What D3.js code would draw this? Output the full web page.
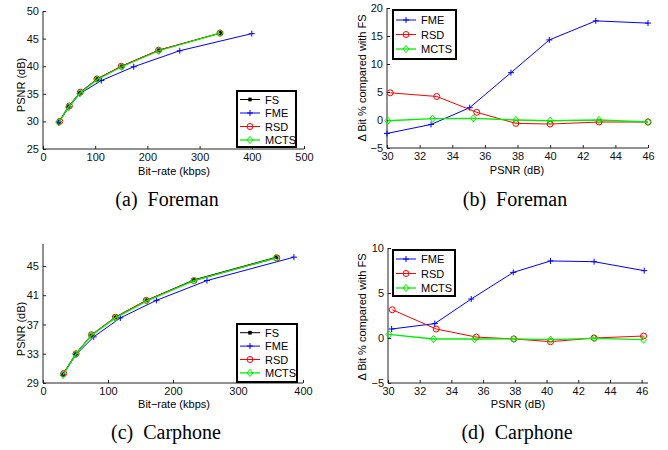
<!DOCTYPE html>
<html lang="en">
<head>
    <meta charset="UTF-8">
    <title>RD curves and bit difference</title>
    <script src="https://d3js.org/d3.v7.min.js"></script>
    <style>
        body { margin: 0; background: #fff; }
        text { font-family: "Liberation Sans", Arial, sans-serif; }
        .caption { font-family: "Liberation Serif", "Times New Roman", serif; font-size: 20px; }
    </style>
</head>
<body>
<svg id="fig" width="668" height="450"></svg>
<script>
    // ---- Foreman : rate vs PSNR ----
    var foreFsRate   = [30.6, 48.5, 70.5, 104, 151, 222, 340];
    var foreFsPsnr   = [29.9, 32.7, 35.2, 37.7, 40.0, 42.9, 46.0];
    var foreFmeRate  = [30.0, 49.8, 70.3, 111.7, 173.8, 262, 400];
    var foreFmePsnr  = [29.9, 32.6, 35.0, 37.4, 39.9, 42.8, 45.9];
    var foreRsdRate  = [32.1, 50.5, 71.5, 103.4, 150, 221.5, 339];
    var foreRsdPsnr  = [30.0, 32.8, 35.3, 37.7, 40.0, 42.9, 46.0];
    var foreMctsRate = [30.5, 48.6, 70.7, 104, 150.8, 222, 339];
    var foreMctsPsnr = [29.8, 32.6, 35.1, 37.6, 39.9, 42.8, 46.0];

    // ---- Foreman : delta bit % ----
    var foreDFmeX  = [30.0, 32.7, 35.07, 37.6, 39.95, 42.8, 46.0];
    var foreDFmeY  = [-2.4, -0.8, 2.2, 8.45, 14.3, 17.7, 17.3];
    var foreDRsdX  = [30.2, 33.05, 35.5, 37.9, 40.0, 43.0, 46.0];
    var foreDRsdY  = [4.85, 4.2, 1.37, -0.6, -0.72, -0.36, -0.36];
    var foreDMctsX = [30.05, 32.8, 35.3, 37.9, 40.0, 43.0, 46.0];
    var foreDMctsY = [-0.13, 0.24, 0.3, 0.0, -0.13, 0.0, -0.36];

    // ---- Carphone : rate vs PSNR ----
    var carFsRate   = [30.8, 50.3, 74.4, 111.4, 159.5, 232.3, 359];
    var carFsPsnr   = [30.2, 33.0, 35.5, 38.0, 40.3, 43.1, 46.2];
    var carFmeRate  = [31.1, 51, 78, 119, 174.5, 252.3, 386];
    var carFmePsnr  = [30.2, 32.9, 35.3, 37.9, 40.3, 43.0, 46.2];
    var carRsdRate  = [31.8, 50.8, 74.5, 111.3, 158.8, 232.3, 359.8];
    var carRsdPsnr  = [30.3, 33.0, 35.6, 38.0, 40.3, 43.0, 46.1];
    var carMctsRate = [30.9, 50.2, 74.3, 111.3, 159.2, 232.2, 358.3];
    var carMctsPsnr = [30.1, 32.9, 35.5, 37.9, 40.2, 43.0, 46.1];

    // ---- Carphone : delta bit % ----
    var carDFmeX  = [30.23, 32.95, 35.25, 37.9, 40.25, 43.0, 46.16];
    var carDFmeY  = [1.0, 1.6, 4.33, 7.29, 8.56, 8.48, 7.48];
    var carDRsdX  = [30.27, 33.04, 35.57, 37.93, 40.25, 43.0, 46.12];
    var carDRsdY  = [3.14, 1.0, 0.1, -0.1, -0.41, 0.0, 0.22];
    var carDMctsX = [30.06, 32.87, 35.46, 37.93, 40.25, 43.0, 46.12];
    var carDMctsY = [0.4, -0.11, -0.11, -0.1, -0.19, -0.04, -0.19];

    // tick values
    var rateTicksA = [0, 100, 200, 300, 400, 500];
    var psnrTicksA = [25, 30, 35, 40, 45, 50];
    var rateTicksC = [0, 100, 200, 300, 400];
    var psnrTicksC = [29, 33, 37, 41, 45];
    var psnrAxisTicks = [30, 32, 34, 36, 38, 40, 42, 44, 46];
    var deltaTicksB = [-5, 0, 5, 10, 15, 20];
    var deltaTicksD = [-5, 0, 5, 10];

    var styles = {
        FS:   {color: "#000000", marker: "star"},
        FME:  {color: "#0000ff", marker: "plus"},
        RSD:  {color: "#ff0000", marker: "circle"},
        MCTS: {color: "#00ee00", marker: "diamond"}
    };

    var svg = d3.select("#fig");

    function zip(xs, ys){
        return xs.map(function(x, i){ return [x, ys[i]]; });
    }

    function drawMarker(g, kind, color, x, y){
        if(kind == "circle"){
            g.append("circle").attr("cx", x).attr("cy", y).attr("r", 3)
                .attr("fill", "none").attr("stroke", color).attr("stroke-width", 1);
        } else if(kind == "diamond"){
            g.append("path")
                .attr("d", "M" + x + "," + (y - 3.6) + "L" + (x + 3) + "," + y + "L" + x + "," + (y + 3.6) + "L" + (x - 3) + "," + y + "Z")
                .attr("fill", "none").attr("stroke", color).attr("stroke-width", 1);
        } else if(kind == "plus"){
            g.append("path")
                .attr("d", "M" + (x - 3) + "," + y + "H" + (x + 3) + "M" + x + "," + (y - 3) + "V" + (y + 3))
                .attr("stroke", color).attr("stroke-width", 1);
        } else {
            g.append("path")
                .attr("d", "M" + (x - 2) + "," + y + "H" + (x + 2) + "M" + x + "," + (y - 2) + "V" + (y + 2) +
                    "M" + (x - 1.6) + "," + (y - 1.6) + "L" + (x + 1.6) + "," + (y + 1.6) +
                    "M" + (x - 1.6) + "," + (y + 1.6) + "L" + (x + 1.6) + "," + (y - 1.6))
                .attr("stroke", color).attr("stroke-width", 1.2);
        }
    }

    function drawPanel(p){
        var x = d3.scaleLinear().domain(p.xDomain).range([p.left, p.right]);
        var y = d3.scaleLinear().domain(p.yDomain).range([p.bottom, p.top]);
        var g = svg.append("g");

        // axes, ticks pointing inwards like matlab
        var xAxis = g.append("g").attr("transform", "translate(0," + p.bottom + ")")
            .call(d3.axisBottom(x).tickValues(p.xTicks).tickSizeInner(-3).tickSizeOuter(0).tickPadding(4));
        var yAxis = g.append("g").attr("transform", "translate(" + p.left + ",0)")
            .call(d3.axisLeft(y).tickValues(p.yTicks).tickSizeInner(-3).tickSizeOuter(0).tickPadding(4));
        [xAxis, yAxis].forEach(function(a){
            a.selectAll("text").style("font-size", "11px").attr("fill", "#111");
            a.select(".domain").attr("stroke", "#222");
            a.selectAll("line").attr("stroke", "#222");
        });
        // axis domain lines cover the full box
        xAxis.select(".domain").attr("d", "M" + p.left + ",0H" + p.right);
        yAxis.select(".domain").attr("d", "M0," + p.top + "V" + p.bottom);

        var line = d3.line().x(function(d){ return x(d[0]); }).y(function(d){ return y(d[1]); });
        p.series.forEach(function(s){
            var st = styles[s.name];
            var pts = zip(s.xs, s.ys);
            g.append("path").datum(pts).attr("d", line)
                .attr("fill", "none").attr("stroke", st.color)
                .attr("stroke-width", s.name == "MCTS" ? 1.3 : 1);
            pts.forEach(function(d){
                drawMarker(g, st.marker, st.color, x(d[0]), y(d[1]));
            });
        });

        // legend
        var lg = g.append("g");
        lg.append("rect").attr("x", p.legend.x).attr("y", p.legend.y)
            .attr("width", p.legend.w).attr("height", p.legend.h)
            .attr("fill", "#fff").attr("stroke", "#000").attr("stroke-width", 2);
        p.series.forEach(function(s, i){
            var st = styles[s.name];
            var ly = p.legend.y + p.legend.first + i * p.legend.step;
            var lx = p.legend.x + 3;
            lg.append("line").attr("x1", lx).attr("x2", lx + 20).attr("y1", ly).attr("y2", ly)
                .attr("stroke", st.color).attr("stroke-width", s.name == "MCTS" ? 1.3 : 1);
            drawMarker(lg, st.marker, st.color, lx + 10, ly);
            lg.append("text").attr("x", lx + 25).attr("y", ly + 4)
                .style("font-size", "11px").text(s.name);
        });

        // labels
        g.append("text").attr("x", p.xLabel[0]).attr("y", p.xLabel[1])
            .attr("text-anchor", "middle").style("font-size", "11px").text(p.xTitle);
        g.append("text").attr("transform", "translate(" + p.yLabel[0] + "," + p.yLabel[1] + ") rotate(-90)")
            .attr("text-anchor", "middle").style("font-size", "11px").text(p.yTitle);
        g.append("text").attr("class", "caption").attr("x", p.caption[0]).attr("y", p.caption[1])
            .attr("text-anchor", "middle").text(p.captionText);
    }

    drawPanel({
        left: 43, right: 304, top: 11, bottom: 149,
        xDomain: [0, 500], yDomain: [25, 50], xTicks: rateTicksA, yTicks: psnrTicksA,
        series: [
            {name: "FS", xs: foreFsRate, ys: foreFsPsnr},
            {name: "FME", xs: foreFmeRate, ys: foreFmePsnr},
            {name: "RSD", xs: foreRsdRate, ys: foreRsdPsnr},
            {name: "MCTS", xs: foreMctsRate, ys: foreMctsPsnr}
        ],
        legend: {x: 237, y: 91, w: 59, h: 56, first: 8.5, step: 13.5},
        xTitle: "Bit\u2212rate (kbps)", xLabel: [174, 175],
        yTitle: "PSNR (dB)", yLabel: [25, 85],
        captionText: "(a)\u00a0\u00a0Foreman", caption: [167, 206]
    });

    drawPanel({
        left: 387, right: 648, top: 8, bottom: 148,
        xDomain: [30, 46], yDomain: [-5, 20], xTicks: psnrAxisTicks, yTicks: deltaTicksB,
        series: [
            {name: "FME", xs: foreDFmeX, ys: foreDFmeY},
            {name: "RSD", xs: foreDRsdX, ys: foreDRsdY},
            {name: "MCTS", xs: foreDMctsX, ys: foreDMctsY}
        ],
        legend: {x: 393, y: 10, w: 63, h: 49, first: 10, step: 14.5},
        xTitle: "PSNR (dB)", xLabel: [517, 174],
        yTitle: "\u0394 Bit % compared with FS", yLabel: [366, 78],
        captionText: "(b)\u00a0\u00a0Foreman", caption: [515, 206]
    });

    drawPanel({
        left: 43, right: 303, top: 244, bottom: 383,
        xDomain: [0, 400], yDomain: [29, 48], xTicks: rateTicksC, yTicks: psnrTicksC,
        series: [
            {name: "FS", xs: carFsRate, ys: carFsPsnr},
            {name: "FME", xs: carFmeRate, ys: carFmePsnr},
            {name: "RSD", xs: carRsdRate, ys: carRsdPsnr},
            {name: "MCTS", xs: carMctsRate, ys: carMctsPsnr}
        ],
        legend: {x: 237, y: 324, w: 60, h: 58, first: 8.7, step: 13.4},
        xTitle: "Bit\u2212rate (kbps)", xLabel: [174, 408],
        yTitle: "PSNR (dB)", yLabel: [25, 329],
        captionText: "(c)\u00a0\u00a0Carphone", caption: [166, 439]
    });

    drawPanel({
        left: 388, right: 648, top: 248, bottom: 383,
        xDomain: [30, 46.4], yDomain: [-5, 10], xTicks: psnrAxisTicks, yTicks: deltaTicksD,
        series: [
            {name: "FME", xs: carDFmeX, ys: carDFmeY},
            {name: "RSD", xs: carDRsdX, ys: carDRsdY},
            {name: "MCTS", xs: carDMctsX, ys: carDMctsY}
        ],
        legend: {x: 393, y: 250, w: 62, h: 46, first: 9, step: 14.5},
        xTitle: "PSNR (dB)", xLabel: [518, 408],
        yTitle: "\u0394 Bit % compared with FS", yLabel: [366, 317],
        captionText: "(d)\u00a0\u00a0Carphone", caption: [517, 439]
    });
</script>
</body>
</html>
